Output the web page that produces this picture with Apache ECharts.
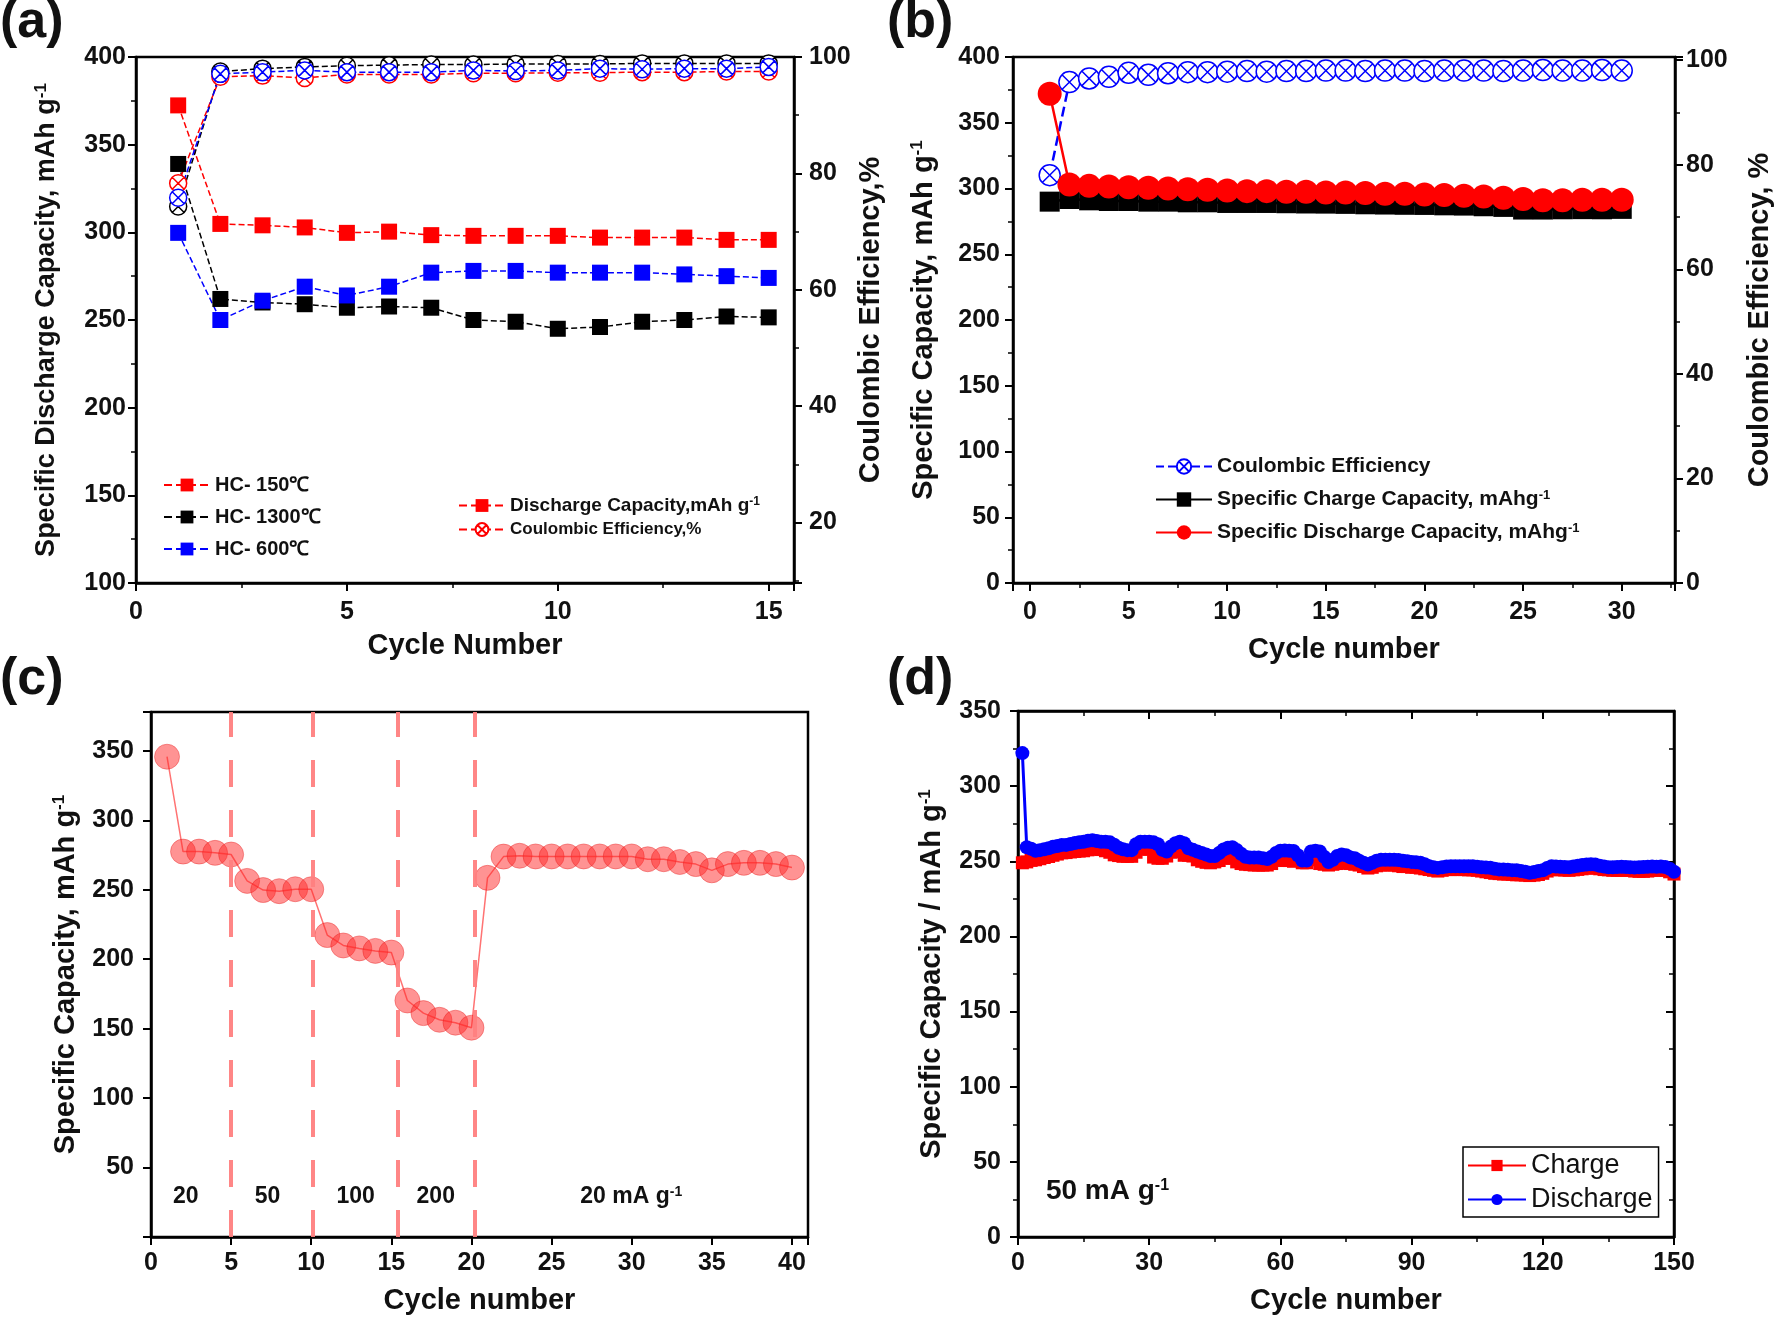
<!DOCTYPE html>
<html><head><meta charset="utf-8">
<script src="https://cdn.jsdelivr.net/npm/echarts@6/dist/echarts.min.js"></script>
<style>html,body{margin:0;padding:0;background:#fff}#c{width:1783px;height:1322px}</style>
</head><body><div id="c"></div>
<script>
// ---------------- DATA ----------------
// (a) rate of HC samples
const cyclesA = [1,2,3,4,5,6,7,8,9,10,11,12,13,14,15];
const capA150  = [372.4,304.8,304,302.8,299.7,300.4,298.4,298,298,298,297,297,297,295.7,295.7];
const capA1300 = [339,262,260,259,257,257.7,257,250,249,245,246,249,250,252,251.5];
const capA600  = [299.7,250,261,269,264,269,277,278,278,277,277,277,276,275,274];
const ceA150   = [78.3,96.6,96.8,96.4,97.0,97.0,97.0,97.2,97.2,97.3,97.3,97.4,97.4,97.5,97.5];
const ceA1300  = [74.3,97.5,98.0,98.3,98.5,98.6,98.7,98.7,98.8,98.8,98.8,98.9,98.9,98.9,98.9];
const ceA600   = [75.8,97.1,97.4,97.7,97.4,97.4,97.4,97.7,97.6,97.7,98.0,97.9,98.0,98.0,98.3];

// (b) 30 cycles
const cyclesB = [1,2,3,4,5,6,7,8,9,10,11,12,13,14,15,16,17,18,19,20,21,22,23,24,25,26,27,28,29,30];
const ceB = [78.0,95.8,96.5,96.8,97.6,97.2,97.5,97.7,97.7,97.8,97.9,97.8,97.9,97.9,98.0,98.0,97.9,98.0,98.0,97.9,98.0,98.0,98.0,97.9,98.0,98.1,98.0,98.0,98.1,98.0];
const chargeB = [290,292,291,290.5,290.5,290,290,289.5,289.5,289,289,289,288.8,288.6,288.5,288.3,288,287.8,287.6,287.5,287.2,287,286.5,286,284,284,284.2,284.3,284.2,284.5];
const dischargeB = [372,303,302,301.5,301,300.5,300,299.5,299,298.5,298,298,297.5,297.5,297,297,296.5,296,296,295.5,295,294.5,294,293,292,291,291,291.5,291.5,291.5];

// (c) rate capability
const cyclesC = [1,2,3,4,5,6,7,8,9,10,11,12,13,14,15,16,17,18,19,20,21,22,23,24,25,26,27,28,29,30,31,32,33,34,35,36,37,38,39,40];
const capC = [345.8,277.5,277.5,276.6,275.4,256.4,249.8,249,250.4,250.4,217.4,209.9,207.8,206,204.8,170.3,161.2,156.4,154.3,150.7,258.6,273.9,274.5,274,274,274,274,274,274,274,272,272,270,268.5,264,268.5,269.4,269.4,268.5,266];
const rateBoundaries = [5, 10.1, 15.4, 20.2];
const rateLabels = ['20', '50', '100', '200', '20 mA g{s|-1}'];
const rateLabelX = [2.2, 7.3, 12.8, 17.8, 30.0];
const rateLabelY = 28.8;

// (d) long cycling at 50 mA/g
const cyclesD = Array.from({length: 150}, (_, i) => i + 1);
const chargeD = [249,249.6,250.6,251,251.7,252.5,253.2,254,254.8,255.6,
 255.8,256.2,256.5,256.8,257,257.6,258.3,258,257.8,257,
 256,254.3,253.8,253.3,253.3,253.3,256,258,258.5,258,
 252.8,252,252,253.5,256,257,256.5,254,254,253.5,
 251,250,249.3,249,249.6,250.5,252,253,252,249.6,
 248.5,248,247.8,247.5,247.5,247.5,247.5,248.5,250.6,251,
 250.5,250.5,250,250.5,249,249,252.5,251,248.5,248,
 247.5,248,248.5,249,249,248.5,248,247.5,246.5,245.5,
 246,247,247.5,247.8,247.5,247.5,247,246.5,246.5,246,
 246,245.5,245,244.5,244,243.5,244,244.5,244.5,244.5,
 244.5,244.5,244.3,244.3,244,243.5,243,242.5,242,241.8,
 241.5,241.5,241.3,241,241,240.8,240.5,240.8,241.2,242,
 243.5,244.5,244.5,244.3,244.2,244,244.3,244.6,245,245.4,
 245.8,245.5,245,244.5,244.3,244,244,244,244,244,
 243.5,243.3,243.3,243.5,244,244,244.2,244,243,241.5];
const dischargeD = [322,259.3,258.3,257,257.4,258,258.7,259.6,260.2,260.9,
 260.9,261.5,262.2,262.6,263,263.7,264,263.5,263,263,
 262.6,261,259,258,257.4,257.4,261.3,263,263,263,
 262.6,261.3,257.6,256.5,259.8,262,263,262,258.7,257.6,
 256.5,255.5,254.5,253.5,253.5,255.5,257.8,259,259.3,257.5,
 255,253,252.5,252.5,252.5,252,251.5,253,255.5,257,
 257.2,257,256.8,254,250.5,250.5,256.5,257,256.5,253,
 249.5,251,253.5,254.5,254,252.6,252,250.4,249,247.8,
 249,250.4,251,251,251,251,250.8,250.4,250,249.6,
 249.3,249,248,246.7,246,245.6,246,246.5,246.7,246.7,
 246.7,246.7,246.7,246.7,246.3,246,245.8,245.7,245,244.6,
 244.5,244.3,244.1,244,243.5,243,242.4,242.8,243.5,244,
 245.5,246.7,246.5,246.3,246.2,246,246.5,247,247.5,247.8,
 248,247.8,247,246.5,246,246,246.2,246.4,246.2,246,
 245.8,246,246.2,246.4,246.5,246.3,246.5,246.2,245,243];
const noteD = {x: 6.5, y: 30, text: '50 mA g{s|-1}'};

// ---------------- STYLE ----------------
const FONT = '"Liberation Sans", Arial, Helvetica, sans-serif';
const TXT = '#111';
const RED = '#ff0000', BLUE = '#0000ff', BLACK = '#000000';
const HATCH = 'path://M10 0A10 10 0 1 1 10 20A10 10 0 1 1 10 0ZM2.93 2.93L17.07 17.07M17.07 2.93L2.93 17.07';
const pairs = (xs, ys) => xs.map((x, i) => [x, ys[i]]);
const mult = m => v => (Math.abs(v / m - Math.round(v / m)) < 1e-6 ? String(Math.round(v)) : '');

function supRich(size) {
  return { s: { fontSize: size, fontWeight: 'bold', fontFamily: FONT, color: TXT, verticalAlign: 'top', lineHeight: 10 } };
}
function axis(extra) {
  const a = {
    type: 'value', nameLocation: 'middle',
    axisLine: { show: true, onZero: false, lineStyle: { color: '#000', width: 2.5 } },
    axisTick: { show: true, length: 8, lineStyle: { color: '#000', width: 2 } },
    minorTick: { show: true, splitNumber: 2, length: 5, lineStyle: { color: '#000', width: 1.5 } },
    splitLine: { show: false }, minorSplitLine: { show: false },
    axisLabel: { color: TXT, fontSize: 25, fontWeight: 'bold', fontFamily: FONT, margin: 10 },
    nameTextStyle: { color: TXT, fontSize: 29, fontWeight: 'bold', fontFamily: FONT, rich: supRich(17) }
  };
  for (const k in extra) {
    const v = extra[k];
    if (a[k] && typeof a[k] === 'object' && v && typeof v === 'object' && !Array.isArray(v)) a[k] = Object.assign({}, a[k], v);
    else a[k] = v;
  }
  return a;
}

const gridBase = { show: true, borderColor: '#000', borderWidth: 2.5, backgroundColor: 'transparent', containLabel: false };

const option = {
  animation: false,
  backgroundColor: '#fff',
  title: [
    { text: '(a)', left: 0, top: -3, padding: 0, textStyle: { fontSize: 52, fontWeight: 'bold', fontFamily: FONT, color: TXT } },
    { text: '(b)', left: 887, top: -3, padding: 0, textStyle: { fontSize: 52, fontWeight: 'bold', fontFamily: FONT, color: TXT } },
    { text: '(c)', left: 0, top: 654, padding: 0, textStyle: { fontSize: 52, fontWeight: 'bold', fontFamily: FONT, color: TXT } },
    { text: '(d)', left: 887, top: 654, padding: 0, textStyle: { fontSize: 52, fontWeight: 'bold', fontFamily: FONT, color: TXT } }
  ],
  grid: [
    Object.assign({ left: 136, top: 57, width: 658, height: 526 }, gridBase),
    Object.assign({ left: 1013, top: 57, width: 662, height: 526 }, gridBase),
    Object.assign({ left: 151, top: 712, width: 657, height: 525 }, gridBase),
    Object.assign({ left: 1018, top: 711, width: 656, height: 526 }, gridBase)
  ],
  xAxis: [
    axis({ gridIndex: 0, min: 0, max: 15.6, interval: 5, name: 'Cycle Number', nameGap: 48, axisLabel: { margin: 17, formatter: mult(5) } }),
    axis({ gridIndex: 1, min: -0.86, max: 32.7, minInterval: 5, maxInterval: 5, name: 'Cycle number', nameGap: 52, axisLabel: { margin: 17, formatter: mult(5) } }),
    axis({ gridIndex: 2, min: 0, max: 41, interval: 5, minorTick: { show: false }, name: 'Cycle number', nameGap: 49, axisLabel: { margin: 14, formatter: mult(5) } }),
    axis({ gridIndex: 3, min: 0, max: 150, interval: 30, name: 'Cycle number', nameGap: 49, axisLabel: { margin: 14, formatter: mult(30) } }),
    axis({ gridIndex: 3, position: 'top', min: 0, max: 150, interval: 30, axisTick: { inside: true }, axisLabel: { show: false } })
  ],
  yAxis: [
    axis({ gridIndex: 0, min: 100, max: 400, interval: 50, name: 'Specific Discharge Capacity, mAh g{s|-1}', nameGap: 76,
      nameTextStyle: { fontSize: 27 }, axisLabel: { margin: 10, formatter: mult(50) } }),
    axis({ gridIndex: 0, position: 'right', min: 9.6, max: 100, minInterval: 20, maxInterval: 20, name: 'Coulombic Efficiency,%', nameGap: 62,
      axisLabel: { margin: 15, formatter: mult(20) } }),
    axis({ gridIndex: 1, min: 0, max: 400, interval: 50, name: 'Specific Capacity, mAh g{s|-1}', nameGap: 75, axisLabel: { margin: 13, formatter: mult(50) } }),
    axis({ gridIndex: 1, position: 'right', min: 0, max: 100.6, interval: 20, name: 'Coulombic Efficiency, %', nameGap: 70,
      axisLabel: { margin: 11, formatter: mult(20) } }),
    axis({ gridIndex: 2, min: 0, max: 378, interval: 50, minorTick: { show: false }, name: 'Specific Capacity, mAh g{s|-1}', nameGap: 71,
      axisLabel: { margin: 17, formatter: v => (v > 0 ? mult(50)(v) : '') } }),
    axis({ gridIndex: 3, min: 0, max: 350, interval: 50, name: 'Specific Capacity / mAh g{s|-1}', nameGap: 72, axisLabel: { margin: 17, formatter: mult(50) } }),
    axis({ gridIndex: 3, position: 'right', min: 0, max: 350, interval: 50, axisTick: { inside: true }, axisLabel: { show: false } })
  ],
  legend: [
    { data: ['HC- 150℃', 'HC- 1300℃', 'HC- 600℃'], left: 163, top: 475, orient: 'vertical', padding: 0,
      itemWidth: 46, itemHeight: 16, itemGap: 12, selectedMode: false,
      textStyle: { color: TXT, fontSize: 20, fontWeight: 'bold', fontFamily: FONT } },
    { data: ['Discharge Capacity,mAh g', 'Coulombic Efficiency,%'], left: 458, top: 496, orient: 'vertical', padding: 0,
      itemWidth: 46, itemHeight: 16, itemGap: 6, selectedMode: false,
      formatter: n => n === 'Discharge Capacity,mAh g' ? '{t|Discharge Capacity,mAh g}{s|-1}' : '{u|Coulombic Efficiency,%}',
      textStyle: { color: TXT, fontSize: 19, fontWeight: 'bold', fontFamily: FONT,
        rich: { t: { fontSize: 19, fontWeight: 'bold', fontFamily: FONT, color: TXT }, u: { fontSize: 17, fontWeight: 'bold', fontFamily: FONT, color: TXT }, s: supRich(12).s } } },
    { data: ['Coulombic Efficiency', 'Specific Charge Capacity, mAhg', 'Specific Discharge Capacity, mAhg'], left: 1155, top: 456, orient: 'vertical', padding: 0,
      itemWidth: 56, itemHeight: 18, itemGap: 12, selectedMode: false,
      formatter: n => n === 'Coulombic Efficiency' ? n : n + '{s|-1}',
      textStyle: { color: TXT, fontSize: 21, fontWeight: 'bold', fontFamily: FONT, rich: { s: supRich(13).s } } },
    { data: ['Charge', 'Discharge'], left: 1463, top: 1147, orient: 'vertical', padding: [5, 6, 4, 4],
      itemWidth: 58, itemHeight: 14, itemGap: 7, selectedMode: false,
      backgroundColor: '#fff', borderColor: '#000', borderWidth: 1.5,
      textStyle: { color: TXT, fontSize: 27, fontFamily: FONT } }
  ],
  series: [
    // ---- (a) capacity ----
    { name: 'HC- 150℃', type: 'line', xAxisIndex: 0, yAxisIndex: 0, data: pairs(cyclesA, capA150), symbol: 'rect', symbolSize: 16,
      itemStyle: { color: RED }, lineStyle: { color: RED, width: 1.5, type: 'dashed' }, z: 3 },
    { name: 'HC- 1300℃', type: 'line', xAxisIndex: 0, yAxisIndex: 0, data: pairs(cyclesA, capA1300), symbol: 'rect', symbolSize: 16,
      itemStyle: { color: BLACK }, lineStyle: { color: BLACK, width: 1.5, type: 'dashed' }, z: 3 },
    { name: 'HC- 600℃', type: 'line', xAxisIndex: 0, yAxisIndex: 0, data: pairs(cyclesA, capA600), symbol: 'rect', symbolSize: 16,
      itemStyle: { color: BLUE }, lineStyle: { color: BLUE, width: 1.5, type: 'dashed' }, z: 3 },
    // ---- (a) coulombic efficiency ----
    { name: 'CE 1300', type: 'line', xAxisIndex: 0, yAxisIndex: 1, data: pairs(cyclesA, ceA1300), symbol: HATCH, symbolSize: 17, symbolKeepAspect: true,
      itemStyle: { color: '#fff', borderColor: BLACK, borderWidth: 1.5 }, lineStyle: { color: BLACK, width: 1.5, type: 'dashed' }, z: 3 },
    { name: 'CE 150', type: 'line', xAxisIndex: 0, yAxisIndex: 1, data: pairs(cyclesA, ceA150), symbol: HATCH, symbolSize: 17, symbolKeepAspect: true,
      itemStyle: { color: '#fff', borderColor: RED, borderWidth: 1.5 }, lineStyle: { color: RED, width: 1.5, type: 'dashed' }, z: 3 },
    { name: 'CE 600', type: 'line', xAxisIndex: 0, yAxisIndex: 1, data: pairs(cyclesA, ceA600), symbol: HATCH, symbolSize: 17, symbolKeepAspect: true,
      itemStyle: { color: '#fff', borderColor: BLUE, borderWidth: 1.5 }, lineStyle: { color: BLUE, width: 1.5, type: 'dashed' }, z: 3 },
    // legend-only keys for (a)
    { name: 'Discharge Capacity,mAh g', type: 'line', xAxisIndex: 0, yAxisIndex: 0, data: [], symbol: 'rect', symbolSize: 16,
      itemStyle: { color: RED }, lineStyle: { color: RED, width: 1.5, type: 'dashed' } },
    { name: 'Coulombic Efficiency,%', type: 'line', xAxisIndex: 0, yAxisIndex: 1, data: [], symbol: HATCH, symbolSize: 16, symbolKeepAspect: true,
      itemStyle: { color: '#fff', borderColor: RED, borderWidth: 1.5 }, lineStyle: { color: RED, width: 1.5, type: 'dashed' } },
    // ---- (b) ----
    { name: 'Coulombic Efficiency', type: 'line', xAxisIndex: 1, yAxisIndex: 3, data: pairs(cyclesB, ceB), symbol: HATCH, symbolSize: 21, symbolKeepAspect: true,
      showAllSymbol: true,
      itemStyle: { color: '#fff', borderColor: BLUE, borderWidth: 1.5 }, lineStyle: { color: BLUE, width: 2.5, type: 'dashed' }, z: 3 },
    { name: 'Specific Charge Capacity, mAhg', type: 'line', xAxisIndex: 1, yAxisIndex: 2, data: pairs(cyclesB, chargeB), symbol: 'rect', symbolSize: 20,
      showAllSymbol: true,
      itemStyle: { color: BLACK }, lineStyle: { color: BLACK, width: 2.5 }, z: 3 },
    { name: 'Specific Discharge Capacity, mAhg', type: 'line', xAxisIndex: 1, yAxisIndex: 2, data: pairs(cyclesB, dischargeB), symbol: 'circle', symbolSize: 24,
      showAllSymbol: true,
      itemStyle: { color: RED }, lineStyle: { color: RED, width: 2.5 }, z: 4 },
    // ---- (c) ----
    { name: 'rate', type: 'line', xAxisIndex: 2, yAxisIndex: 4, data: pairs(cyclesC, capC), symbol: 'circle', symbolSize: 25,
      showAllSymbol: true,
      itemStyle: { color: 'rgba(255,40,40,0.5)', borderColor: 'rgba(230,30,30,0.4)', borderWidth: 1 },
      lineStyle: { color: 'rgba(255,90,90,0.85)', width: 1.5 }, z: 3,
      markLine: { silent: true, symbol: ['none', 'none'], label: { show: false },
        lineStyle: { color: '#ff8080', width: 4, type: [27, 23], opacity: 0.95 },
        data: rateBoundaries.map(v => ({ xAxis: v })) } },
    { name: 'rateLabels', type: 'scatter', xAxisIndex: 2, yAxisIndex: 4, symbolSize: 1, itemStyle: { color: 'rgba(0,0,0,0)' }, silent: true,
      data: rateLabels.map((t, i) => [rateLabelX[i], rateLabelY, t]),
      label: { show: true, position: [0, 0], align: 'center', verticalAlign: 'middle', formatter: p => p.value[2],
        color: TXT, opacity: 1, fontSize: 23, fontWeight: 'bold', fontFamily: FONT,
        rich: { s: supRich(14).s } }, z: 5 },
    // ---- (d) ----
    { name: 'Charge', type: 'line', xAxisIndex: 3, yAxisIndex: 5, data: pairs(cyclesD, chargeD), symbol: 'rect', symbolSize: 13,
      showAllSymbol: true,
      itemStyle: { color: RED }, lineStyle: { color: RED, width: 3 }, z: 3 },
    { name: 'Discharge', type: 'line', xAxisIndex: 3, yAxisIndex: 5, data: pairs(cyclesD, dischargeD), symbol: 'circle', symbolSize: 14,
      showAllSymbol: true,
      itemStyle: { color: BLUE }, lineStyle: { color: BLUE, width: 3 }, z: 4 },
    { name: 'noteD', type: 'scatter', xAxisIndex: 3, yAxisIndex: 5, symbolSize: 1, itemStyle: { color: 'rgba(0,0,0,0)' }, silent: true,
      data: [[noteD.x, noteD.y, noteD.text]],
      label: { show: true, position: [0, 0], align: 'left', verticalAlign: 'middle', formatter: p => p.value[2],
        color: TXT, opacity: 1, fontSize: 28, fontWeight: 'bold', fontFamily: FONT,
        rich: { s: supRich(16).s } }, z: 5 }
  ]
};

const chart = echarts.init(document.getElementById('c'), null, { renderer: 'canvas' });
chart.setOption(option);
</script></body></html>
